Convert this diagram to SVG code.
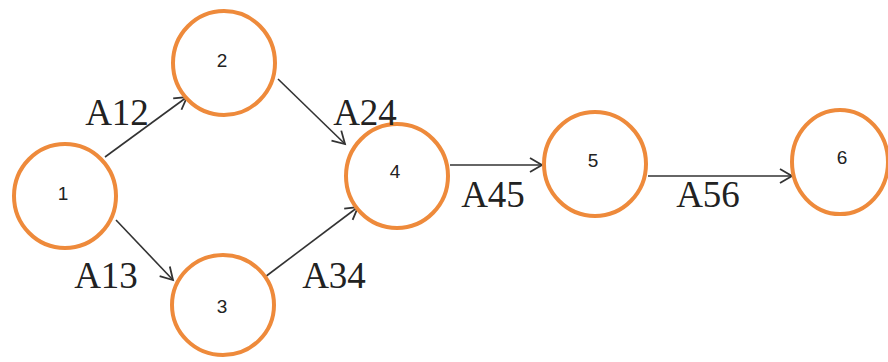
<svg xmlns="http://www.w3.org/2000/svg" width="888" height="362" viewBox="0 0 888 362">
<style>
.node ellipse{fill:#fff;stroke:#EE8A3B;stroke-width:4}
.num{font-family:"Liberation Sans",Arial,sans-serif;font-size:19px;fill:#222;text-anchor:middle}
.lbl{font-family:"Liberation Serif","Times New Roman",serif;font-size:37px;fill:#222;text-anchor:middle}
.edge{stroke:#333;stroke-width:1.6;fill:none}
</style>
<defs>
<marker id="arr" markerUnits="userSpaceOnUse" markerWidth="20" markerHeight="20" viewBox="-14 -10 16 20" refX="0" refY="0" orient="auto">
<path d="M-12,-7 L0,0 L-12,7" fill="none" stroke="#333" stroke-width="1.8"/>
</marker>
</defs>
<rect width="888" height="362" fill="#fff"/>
<g id="connectors">
<line class="edge" x1="105" y1="157" x2="187" y2="97" marker-end="url(#arr)"/>
<line class="edge" x1="116" y1="220" x2="173" y2="280" marker-end="url(#arr)"/>
<line class="edge" x1="278" y1="79" x2="345" y2="144" marker-end="url(#arr)"/>
<line class="edge" x1="265" y1="277" x2="358" y2="207" marker-end="url(#arr)"/>
<line class="edge" x1="450" y1="165" x2="542" y2="165" marker-end="url(#arr)"/>
<line class="edge" x1="648" y1="176" x2="792" y2="176" marker-end="url(#arr)"/>
</g>
<g id="n1" class="node"><ellipse cx="65" cy="196" rx="51" ry="52"/><text class="num" x="63" y="200">1</text></g>
<g id="n2" class="node"><ellipse cx="224" cy="63" rx="51" ry="52"/><text class="num" x="222" y="67">2</text></g>
<g id="n3" class="node"><ellipse cx="223" cy="305" rx="51" ry="50"/><text class="num" x="222" y="313">3</text></g>
<g id="n4" class="node"><ellipse cx="397" cy="176" rx="51" ry="52"/><text class="num" x="395" y="178">4</text></g>
<g id="n5" class="node"><ellipse cx="595" cy="164" rx="51" ry="52"/><text class="num" x="593" y="167">5</text></g>
<g id="n6" class="node"><ellipse cx="840" cy="162" rx="48" ry="52"/><text class="num" x="842" y="164">6</text></g>
<g id="labels">
<text class="lbl" x="117" y="125">A12</text>
<text class="lbl" x="365" y="125">A24</text>
<text class="lbl" x="106" y="288">A13</text>
<text class="lbl" x="334" y="288">A34</text>
<text class="lbl" x="493" y="207">A45</text>
<text class="lbl" x="708" y="207">A56</text>
</g>
</svg>
